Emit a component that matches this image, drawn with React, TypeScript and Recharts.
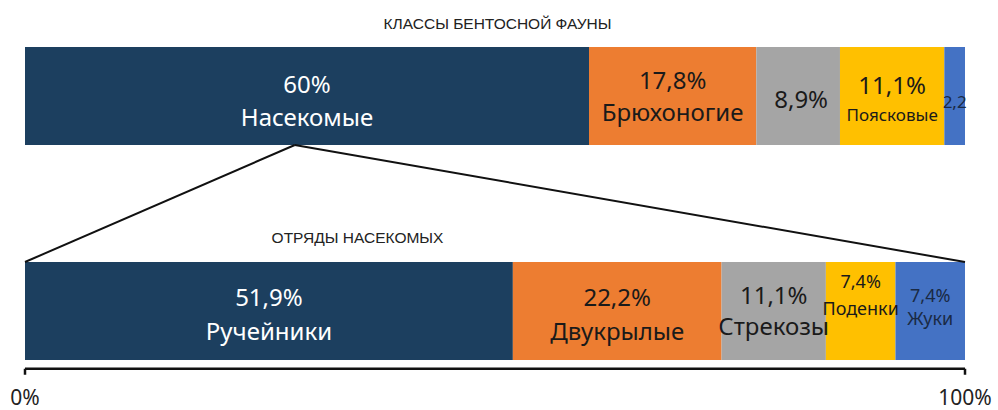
import React from 'react';
import { BarChart, Bar, XAxis, YAxis, ReferenceLine, LabelList } from 'recharts';

// ---- data ----
const categories = ['Классы бентосной фауны', '', 'Отряды насекомых'];
const classNames = ['Насекомые', 'Брюхоногие', '', 'Поясковые', ''];
const classValues = [60, 17.8, 8.9, 11.1, 2.2];
const classLabels = ['60%', '17,8%', '8,9%', '11,1%', '2,2'];
const orderNames = ['Ручейники', 'Двукрылые', 'Стрекозы', 'Поденки', 'Жуки'];
const orderValues = [51.9, 22.2, 11.1, 7.4, 7.4];
const orderLabels = ['51,9%', '22,2%', '11,1%', '7,4%', '7,4%'];
const xTicks = [0, 100];
const insectsApex = 28.7;

const seriesKeys = ['s0', 's1', 's2', 's3', 's4'];
const colors = ['#1c3f5f', '#ed7d31', '#a5a5a5', '#ffc000', '#4472c4'];

const rows = categories.map((cat, i) => {
  const vals = i === 0 ? classValues : i === 2 ? orderValues : null;
  const row: any = { cat };
  seriesKeys.forEach((k, j) => {
    row[k] = vals ? vals[j] : null;
  });
  return row;
});

// ---- layout ----
const W = 998;
const H = 410;
const TOP = 42.25;
const BAND = 107.5;
const GAP = 4.75;
const BAR = BAND - 2 * GAP;
const FONT = '"Noto Sans", sans-serif';
const DARK = '#1a1a1a';

type St = { p: number; n?: number; dy1: number; dy2?: number; fill: string; dx?: number };
const styles: Record<number, St[]> = {
  0: [
    { p: 24, n: 24, dy1: -12.5, dy2: 20.5, fill: '#ffffff' },
    { p: 24, n: 24, dy1: -16.5, dy2: 15.5, fill: DARK },
    { p: 24, dy1: 2.5, fill: DARK, dx: 3 },
    { p: 24, n: 17, dy1: -12, dy2: 18, fill: DARK },
    { p: 17, dy1: 5, fill: '#1a2a44' },
  ],
  2: [
    { p: 24, n: 24, dy1: -14.5, dy2: 19, fill: '#ffffff' },
    { p: 24, n: 24, dy1: -14.5, dy2: 19, fill: DARK },
    { p: 24, n: 24, dy1: -17, dy2: 14, fill: DARK },
    { p: 18, n: 18, dy1: -30.5, dy2: -3, fill: DARK },
    { p: 18, n: 18, dy1: -16.5, dy2: 6.5, fill: '#1a2a44' },
  ],
};

const makeLabel = (j: number) => (props: any) => {
  const { x, y, width, height, index, value } = props;
  if (value === null || value === undefined || Number.isNaN(Number(y))) return null;
  const row = index === 0 ? 0 : 2;
  const st = styles[row][j];
  const pct = row === 0 ? classLabels[j] : orderLabels[j];
  const name = row === 0 ? classNames[j] : orderNames[j];
  const cx = Number(x) + Number(width) / 2 + (st.dx || 0);
  const cy = Number(y) + Number(height) / 2;
  return (
    <g key={`lbl-${j}-${index}`}>
      <text x={cx} y={cy + st.dy1} textAnchor="middle" dominantBaseline="central" fontFamily={FONT} fontSize={st.p} fill={st.fill}>
        {pct}
      </text>
      {name ? (
        <text x={cx} y={cy + (st.dy2 || 0)} textAnchor="middle" dominantBaseline="central" fontFamily={FONT} fontSize={st.n} fill={st.fill}>
          {name}
        </text>
      ) : null}
    </g>
  );
};

// connector: scale gives bar centres; move each end to the facing bar edge
const connectorShape = (p: any) => {
  let { x1, y1, x2, y2 } = p;
  const half = BAR / 2;
  if (y1 > y2) {
    y1 -= half;
    y2 += half;
  } else {
    y1 += half;
    y2 -= half;
  }
  return <line x1={x1} y1={y1} x2={x2} y2={y2} stroke="#111" strokeWidth={2} />;
};

const titleStyle: React.CSSProperties = {
  position: 'absolute',
  fontFamily: '"Liberation Sans", Arial, sans-serif',
  fontSize: 15.5,
  color: '#222',
  whiteSpace: 'nowrap',
  transform: 'translate(-50%, -50%)',
  lineHeight: 1,
};

export default function App() {
  return (
    <div style={{ position: 'absolute', left: 0, top: 0, width: W, height: H, background: '#fff' }}>
      <BarChart
        width={W}
        height={H}
        data={rows}
        layout="vertical"
        margin={{ top: TOP, right: 33, bottom: 0, left: 25 }}
        barCategoryGap={GAP}
      >
        <XAxis
          xAxisId={0}
          type="number"
          domain={[0, 100]}
          ticks={xTicks}
          interval={0}
          allowDataOverflow
          tickFormatter={(v: number) => `${v}%`}
          axisLine={{ stroke: '#111', strokeWidth: 2.5 }}
          tickLine={{ stroke: '#111', strokeWidth: 2.5 }}
          tickSize={6}
          tickMargin={15}
          height={41.25}
          tick={{ fontSize: 21, fill: '#222', fontFamily: FONT }}
        />
        <YAxis yAxisId="cat" type="category" dataKey="cat" hide padding={{ top: 0, bottom: 4 }} />
        {seriesKeys.map((k, j) => (
          <Bar key={k} dataKey={k} stackId="a" xAxisId={0} yAxisId="cat" fill={colors[j]} isAnimationActive={false}>
            <LabelList dataKey={k} content={makeLabel(j)} />
          </Bar>
        ))}
        <ReferenceLine
          xAxisId={0}
          yAxisId="cat"
          segment={[{ x: 0, y: categories[2] }, { x: insectsApex, y: categories[0] }]}
          shape={connectorShape}
        />
        <ReferenceLine
          xAxisId={0}
          yAxisId="cat"
          segment={[{ x: 100, y: categories[2] }, { x: insectsApex, y: categories[0] }]}
          shape={connectorShape}
        />
      </BarChart>
      <div style={{ ...titleStyle, left: 497.5, top: 24 }}>КЛАССЫ БЕНТОСНОЙ ФАУНЫ</div>
      <div style={{ ...titleStyle, left: 357.5, top: 237.5 }}>ОТРЯДЫ НАСЕКОМЫХ</div>
    </div>
  );
}
